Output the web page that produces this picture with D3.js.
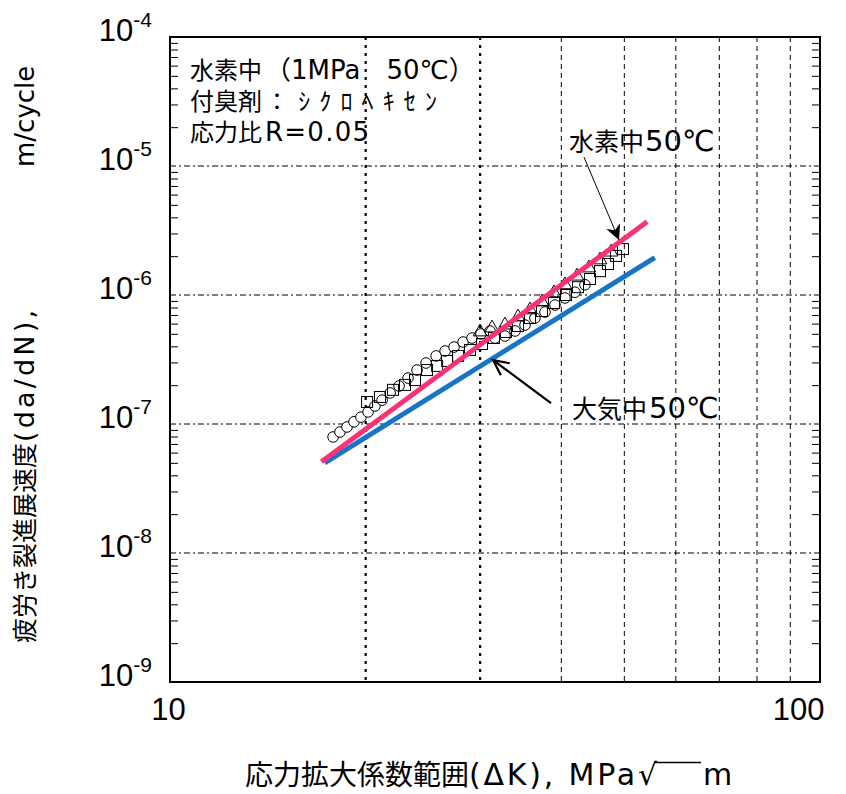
<!DOCTYPE html>
<html>
<head>
<meta charset="utf-8">
<script src="https://d3js.org/d3.v7.min.js"></script>
<style>
  body { margin: 0; background: #fff; }
  svg text { font-family: "Liberation Sans", Arial, "Noto Sans CJK JP", sans-serif; fill: #000; }
  text.jp { font-family: "Noto Sans CJK JP", sans-serif; }
  text.lat { font-family: "DejaVu Sans", "Noto Sans CJK JP", sans-serif; }
</style>
</head>
<body>
<svg id="chart" width="846" height="794"></svg>
<script>
  // 水素中 data, circles
  const circleK = [17.82, 18.26, 18.72, 19.19, 19.67, 20.17, 20.67, 21.20, 21.81, 22.51, 23.24, 23.99, 24.77, 25.67, 26.50,
    27.35, 28.24, 29.15, 30.09, 31.07, 31.62, 32.76, 33.95, 35.17, 36.43, 37.75, 39.11, 40.52, 41.98, 43.49];
  const circleRate = [7.93e-8, 8.67e-8, 9.48e-8, 1.04e-7, 1.13e-7, 1.24e-7, 1.38e-7, 1.53e-7, 1.74e-7, 1.97e-7, 2.27e-7,
    2.62e-7, 2.97e-7, 3.37e-7, 3.68e-7, 3.95e-7, 4.32e-7, 4.64e-7, 4.99e-7, 5.26e-7, 4.64e-7, 4.81e-7, 5.26e-7, 5.85e-7,
    6.63e-7, 7.38e-7, 8.36e-7, 9.48e-7, 1.05e-6, 1.20e-6];

  // squares
  const squareK = [20.10, 21.04, 22.03, 22.99, 23.82, 24.86, 25.76, 26.69, 27.74, 28.94, 30.20, 31.51, 32.88, 34.31, 35.80,
    37.35, 38.97, 40.67, 42.43, 44.27, 45.87, 47.19, 48.56, 49.76];
  const squareRate = [1.48e-7, 1.62e-7, 1.84e-7, 2.01e-7, 2.19e-7, 2.62e-7, 2.82e-7, 3.08e-7, 3.37e-7, 3.75e-7, 4.17e-7,
    4.64e-7, 5.17e-7, 5.75e-7, 6.63e-7, 7.52e-7, 8.67e-7, 1.00e-6, 1.15e-6, 1.33e-6, 1.53e-6, 1.74e-6, 2.01e-6, 2.27e-6];

  // triangles
  const triK = [29.99, 31.29, 32.76, 34.31, 35.80, 37.35, 38.97, 40.52, 42.28, 44.11, 45.87, 47.70];
  const triRate = [5.17e-7, 5.55e-7, 5.85e-7, 6.75e-7, 7.66e-7, 8.83e-7, 1.04e-6, 1.20e-6, 1.40e-6, 1.62e-6, 1.87e-6, 2.15e-6];

  // fitted lines
  const h2LineK = [17.1, 54.2];
  const h2LineRate = [5.1e-8, 3.7e-6];
  const airLineK = [17.3, 55.7];
  const airLineRate = [5.0e-8, 1.95e-6];

  const xTicks = [10, 100];
  const xGrid = [20, 30, 40, 50, 60, 70, 80, 90];
  const yTicks = [1e-9, 1e-8, 1e-7, 1e-6, 1e-5, 1e-4];
  const yTickLabels = ["-9", "-8", "-7", "-6", "-5", "-4"];

  // text pieces: [text, class, offset, font size, spaced width]
  const noteLines = [
    [["水素中", "jp", 0, 24], ["（1MPa　50℃）", "lat", 75, 26]],
    [["付臭剤", "jp", 0, 24], ["：ｼｸﾛﾍｷｾﾝ", "jp", 75, 24, 172]],
    [["応力比", "jp", 0, 24], ["R=0.05", "lat", 75, 26, 104]]
  ];
  const xTitle = [["応力拡大係数範囲", "jp", 0, 28], ["(ΔK), MPa√", "lat", 224, 30, 188], ["m", "lat", 458, 30]];
  const yTitle = [["疲労き裂進展速度", "jp", 0, 25], ["(da/dN),", "lat", 201, 27, 132], ["m/cycle", "lat", 476, 26]];
  const h2Label = [["水素中", "jp", 0, 25], ["50℃", "lat", 76, 29]];
  const airLabel = [["大気中", "jp", 0, 25], ["50℃", "lat", 77, 29]];

  const svg = d3.select("#chart");
  const pLeft = 170, pRight = 820, pTop = 37, pBottom = 682;

  const x = d3.scaleLog().domain([10, 100]).range([pLeft, pRight]);
  const y = d3.scaleLog().domain([1e-9, 1e-4]).range([pBottom, pTop]);

  function pieces(g, x0, y0, parts) {
    parts.forEach(p => {
      const t = g.append("text")
        .attr("class", p[1])
        .attr("x", x0 + p[2]).attr("y", y0)
        .attr("font-size", p[3])
        .text(p[0]);
      if (p[4]) t.attr("textLength", p[4]).attr("lengthAdjust", "spacing");
    });
    return g;
  }

  // grid
  svg.append("g").selectAll("line")
    .data(xGrid)
    .join("line")
    .attr("x1", d => x(d)).attr("x2", d => x(d))
    .attr("y1", pTop).attr("y2", pBottom)
    .attr("stroke", "#000")
    .attr("stroke-width", d => d <= 30 ? 2.2 : 1)
    .attr("stroke-dasharray", d => d <= 30 ? "3,5" : "5,4");

  svg.append("g").selectAll("line")
    .data(yTicks.slice(1, -1))
    .join("line")
    .attr("x1", pLeft).attr("x2", pRight)
    .attr("y1", d => y(d)).attr("y2", d => y(d))
    .attr("stroke", "#000")
    .attr("stroke-width", 1)
    .attr("stroke-dasharray", "6,3,2,3");

  // minor ticks left and right, pointing in
  const minor = [];
  for (let e = -9; e < -4; e++) {
    for (let m = 2; m <= 9; m++) minor.push(m * Math.pow(10, e));
  }
  svg.append("g")
    .attr("transform", `translate(${pLeft},0)`)
    .call(d3.axisRight(y).tickValues(minor).tickSize(8).tickFormat(""))
    .call(g => g.select(".domain").remove());
  svg.append("g")
    .attr("transform", `translate(${pRight},0)`)
    .call(d3.axisLeft(y).tickValues(minor).tickSize(8).tickFormat(""))
    .call(g => g.select(".domain").remove());

  // fitted lines
  const line = d3.line().x(d => x(d[0])).y(d => y(d[1]));
  svg.append("path")
    .datum(airLineK.map((k, i) => [k, airLineRate[i]]))
    .attr("d", line)
    .attr("fill", "none")
    .attr("stroke", "#1874c6")
    .attr("stroke-width", 5);

  // markers
  const circles = circleK.map((k, i) => [k, circleRate[i]]);
  const squares = squareK.map((k, i) => [k, squareRate[i]]);
  const tris = triK.map((k, i) => [k, triRate[i]]);

  svg.append("g").selectAll("circle")
    .data(circles)
    .join("circle")
    .attr("cx", d => x(d[0])).attr("cy", d => y(d[1]))
    .attr("r", 5.3)
    .attr("fill", "#fff")
    .attr("stroke", "#000")
    .attr("stroke-width", 1);

  svg.append("g").selectAll("rect")
    .data(squares)
    .join("rect")
    .attr("x", d => x(d[0]) - 5.5).attr("y", d => y(d[1]) - 5.5)
    .attr("width", 11).attr("height", 11)
    .attr("fill", "none")
    .attr("stroke", "#000")
    .attr("stroke-width", 1);

  const tri = d3.symbol().type(d3.symbolTriangle).size(80);
  svg.append("g").selectAll("path")
    .data(tris)
    .join("path")
    .attr("transform", d => `translate(${x(d[0])},${y(d[1])})`)
    .attr("d", tri)
    .attr("fill", "none")
    .attr("stroke", "#000")
    .attr("stroke-width", 1);

  svg.append("path")
    .datum(h2LineK.map((k, i) => [k, h2LineRate[i]]))
    .attr("d", line)
    .attr("fill", "none")
    .attr("stroke", "#fa3274")
    .attr("stroke-width", 5);

  // frame
  svg.append("rect")
    .attr("x", pLeft).attr("y", pTop)
    .attr("width", pRight - pLeft).attr("height", pBottom - pTop)
    .attr("fill", "none")
    .attr("stroke", "#000")
    .attr("stroke-width", 2);

  // x tick labels
  svg.append("g")
    .attr("transform", `translate(0,${pBottom})`)
    .call(d3.axisBottom(x).tickValues(xTicks).tickSize(0).tickPadding(16).tickFormat(d3.format("d")))
    .call(g => g.select(".domain").remove())
    .call(g => g.selectAll("text").attr("font-size", 31).attr("font-family", "Liberation Sans, Arial"))
    .call(g => g.selectAll(".tick:first-of-type text").attr("dx", -2))
    .call(g => g.selectAll(".tick:last-of-type text").attr("text-anchor", "end").attr("dx", 4));

  // y tick labels with superscripts
  const yl = svg.append("g").selectAll("text")
    .data(yTicks)
    .join("text")
    .attr("x", pLeft - 18)
    .attr("y", d => y(d) + 4)
    .attr("text-anchor", "end")
    .attr("font-size", 31);
  yl.append("tspan").text("10");
  yl.append("tspan")
    .attr("font-size", 21)
    .attr("dy", -14)
    .text((d, i) => yTickLabels[i]);

  // axis titles
  const xt = pieces(svg.append("g"), 245, 785, xTitle);
  // vinculum of the root sign
  xt.append("line")
    .attr("x1", 245 + 410).attr("x2", 245 + 456)
    .attr("y1", 762.5).attr("y2", 762.5)
    .attr("stroke", "#000").attr("stroke-width", 1.6);
  pieces(svg.append("g").attr("transform", "translate(34,643) rotate(-90)"), 0, 0, yTitle);

  // note box
  noteLines.forEach((ln, i) => pieces(svg.append("g"), 190, 79 + i * 31, ln));

  // annotations
  svg.append("defs").append("marker")
    .attr("id", "head")
    .attr("viewBox", "0 0 10 10")
    .attr("refX", 10).attr("refY", 5)
    .attr("markerWidth", 15).attr("markerHeight", 15)
    .attr("markerUnits", "userSpaceOnUse")
    .attr("orient", "auto")
    .append("path")
    .attr("d", "M0,0 L10,5 L0,10 L3,5 Z")
    .attr("fill", "#000");

  svg.append("line")
    .attr("x1", x(43.35)).attr("y1", y(1.17e-5))
    .attr("x2", x(49.07)).attr("y2", y(2.67e-6))
    .attr("stroke", "#000")
    .attr("stroke-width", 1)
    .attr("marker-end", "url(#head)");

  pieces(svg.append("g"), 569, 151, h2Label);

  // open arrow for 大気中
  const tail = [x(38.56), y(1.45e-7)], tip = [x(31.40), y(3.13e-7)];
  const ang = Math.atan2(tail[1] - tip[1], tail[0] - tip[0]);
  const hl = 17, spread = 0.45;
  svg.append("path")
    .attr("d", `M${tail[0]},${tail[1]} L${tip[0]},${tip[1]}` +
      ` M${tip[0] + hl * Math.cos(ang + spread)},${tip[1] + hl * Math.sin(ang + spread)} L${tip[0]},${tip[1]}` +
      ` L${tip[0] + hl * Math.cos(ang - spread)},${tip[1] + hl * Math.sin(ang - spread)}`)
    .attr("fill", "none")
    .attr("stroke", "#000")
    .attr("stroke-width", 2.2);

  pieces(svg.append("g"), 572, 418, airLabel);
</script>
</body>
</html>
